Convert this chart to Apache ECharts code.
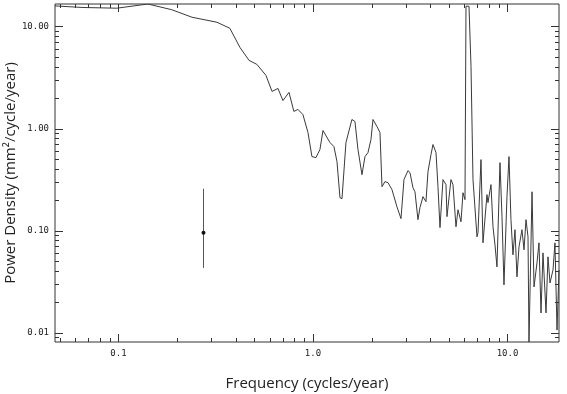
<!DOCTYPE html>
<html>
<head>
<meta charset="utf-8">
<script src="https://cdn.jsdelivr.net/npm/echarts@6/dist/echarts.min.js"></script>
<style>
  html, body { margin: 0; padding: 0; background: #fff; }
  #chart { width: 567px; height: 394px; }
</style>
</head>
<body>
<div id="chart"></div>
<script>
// spectrum (cycles/year, mm^2/cycle/year)
const freq = [0.0472, 0.0657, 0.0982, 0.1418, 0.188, 0.239, 0.321, 0.374, 0.421, 0.469,
  0.515, 0.573, 0.616, 0.661, 0.701, 0.753, 0.798, 0.837, 0.888, 0.943,
  0.988, 1.036, 1.086, 1.126, 1.223, 1.282, 1.329, 1.377, 1.410, 1.478,
  1.586, 1.644, 1.704, 1.786, 1.851, 1.918, 1.987, 2.035, 2.133, 2.211,
  2.264, 2.345, 2.430, 2.548, 2.703, 2.835, 2.937, 3.079, 3.153, 3.267,
  3.345, 3.466, 3.549, 3.678, 3.811, 3.902, 4.044, 4.140, 4.290, 4.392,
  4.498, 4.660, 4.829, 4.886, 5.123, 5.246, 5.436, 5.567, 5.768, 5.906,
  6.047, 6.119, 6.341, 6.493, 6.648, 6.970, 7.053, 7.308, 7.482, 7.845,
  7.938, 8.226, 8.424, 8.626, 8.831, 9.150, 9.370, 9.594, 9.940, 10.18,
  10.42, 10.67, 10.93, 11.19, 11.46, 11.87, 12.16, 12.45, 12.75, 12.90,
  13.37, 13.69, 14.18, 14.52, 14.87, 15.22, 15.78, 16.15, 16.54, 17.14,
  17.54, 17.97, 18.40];
const power = [15.9, 15.34, 15.10, 16.6, 14.59, 12.31, 11.00, 9.60, 6.25, 4.66,
  4.25, 3.32, 2.31, 2.47, 1.88, 2.26, 1.47, 1.54, 1.37, 0.913,
  0.531, 0.519, 0.622, 0.956, 0.729, 0.666, 0.474, 0.210, 0.205, 0.729,
  1.226, 1.172, 0.622, 0.353, 0.531, 0.581, 0.780, 1.226, 1.046, 0.913,
  0.269, 0.302, 0.295, 0.252, 0.171, 0.131, 0.316, 0.387, 0.370, 0.263,
  0.240, 0.128, 0.168, 0.215, 0.192, 0.378, 0.555, 0.697, 0.581, 0.269,
  0.107, 0.316, 0.282, 0.137, 0.316, 0.282, 0.109, 0.160, 0.122, 0.235,
  0.201, 15.79, 15.79, 4.06, 0.316, 0.0869, 0.0952, 0.496, 0.0759, 0.225,
  0.188, 0.282, 0.109, 0.0725, 0.0441, 0.463, 0.137, 0.0294, 0.215, 0.531,
  0.128, 0.0579, 0.102, 0.0352, 0.0693, 0.102, 0.0648, 0.128, 0.0869, 0.0081,
  0.240, 0.0281, 0.0483, 0.0759, 0.0156, 0.0605, 0.0156, 0.0553, 0.0307, 0.0412,
  0.0759, 0.0106, 0.0412];

// single error bar
const errFreq = [0.272];
const errMid = [0.0952];
const errLow = [0.0431];
const errHigh = [0.257];

// axis ticks
const xMajor = [0.1, 1, 10];
const xMinor = [0.05, 0.06, 0.07, 0.08, 0.09, 0.2, 0.3, 0.4, 0.5, 0.6, 0.7, 0.8, 0.9,
  2, 3, 4, 5, 6, 7, 8, 9];
const yMajor = [0.01, 0.1, 1, 10];
const yMinor = [0.009, 0.02, 0.03, 0.04, 0.05, 0.06, 0.07, 0.08, 0.09,
  0.2, 0.3, 0.4, 0.5, 0.6, 0.7, 0.8, 0.9, 2, 3, 4, 5, 6, 7, 8, 9];

const X_MIN = 0.0472, X_MAX = 18.4;
const Y_MIN = 0.0081, Y_MAX = 16.6;

const chart = echarts.init(document.getElementById('chart'));

function isDecade(v) {
  const l = Math.log10(v);
  return Math.abs(l - Math.round(l)) < 1e-6;
}

// inward ticks on both opposite edges of the plot frame
function tickSeries(values, isX, len) {
  return {
    type: 'custom',
    silent: true,
    z: 5,
    clip: false,
    data: values.map(v => isX ? [v, 1] : [1, v]),
    renderItem: function (params, api) {
      const cs = params.coordSys;
      if (isX) {
        const px = Math.round(api.coord([api.value(0), 1])[0]) + 0.5;
        const b = cs.y + cs.height, t = cs.y;
        return { type: 'group', children: [
          { type: 'line', shape: { x1: px, y1: b, x2: px, y2: b - len }, style: { stroke: '#333', lineWidth: 1 } },
          { type: 'line', shape: { x1: px, y1: t, x2: px, y2: t + len }, style: { stroke: '#333', lineWidth: 1 } }
        ]};
      }
      const py = Math.round(api.coord([1, api.value(1)])[1]) + 0.5;
      const l = cs.x, r = cs.x + cs.width;
      return { type: 'group', children: [
        { type: 'line', shape: { x1: l, y1: py, x2: l + len, y2: py }, style: { stroke: '#333', lineWidth: 1 } },
        { type: 'line', shape: { x1: r, y1: py, x2: r - len, y2: py }, style: { stroke: '#333', lineWidth: 1 } }
      ]};
    }
  };
}

const option = {
  animation: false,
  grid: {
    left: 55, right: 8, top: 4, bottom: 52,
    outerBoundsMode: 'none',
    containLabel: false,
    show: true, borderColor: '#333', borderWidth: 1, backgroundColor: 'transparent'
  },
  xAxis: {
    type: 'log', min: X_MIN, max: X_MAX, logBase: 10,
    name: 'Frequency (cycles/year)',
    nameLocation: 'middle', nameGap: 34,
    nameMoveOverlap: false,
    nameTextStyle: { fontFamily: 'Open Sans', fontSize: 15, color: '#222' },
    axisLine: { show: false },
    axisTick: { show: false },
    splitLine: { show: false },
    axisLabel: {
      margin: 7, color: '#222', fontFamily: 'DejaVu Sans Mono', fontSize: 9,
      showMinLabel: false, showMaxLabel: false,
      formatter: v => isDecade(v) ? v.toFixed(1) : ''
    }
  },
  yAxis: {
    type: 'log', min: Y_MIN, max: Y_MAX, logBase: 10,
    name: 'Power Density (mm²/cycle/year)',
    nameLocation: 'middle', nameGap: 37,
    nameMoveOverlap: false,
    nameTextStyle: { fontFamily: 'Open Sans', fontSize: 15, color: '#222' },
    axisLine: { show: false },
    axisTick: { show: false },
    splitLine: { show: false },
    axisLabel: {
      margin: 6, color: '#222', fontFamily: 'DejaVu Sans Mono', fontSize: 9,
      showMinLabel: false, showMaxLabel: false,
      formatter: v => isDecade(v) ? v.toFixed(2) : ''
    }
  },
  series: [
    {
      type: 'line',
      data: freq.map((f, i) => [f, power[i]]),
      showSymbol: false,
      lineStyle: { color: '#3a3a3a', width: 1 },
      clip: true,
      z: 3
    },
    {
      type: 'custom',
      data: errFreq.map((f, i) => [f, errMid[i], errLow[i], errHigh[i]]),
      renderItem: function (params, api) {
        const c = api.coord([api.value(0), api.value(1)]);
        const lo = api.coord([api.value(0), api.value(2)]);
        const hi = api.coord([api.value(0), api.value(3)]);
        const x = Math.round(c[0]) + 0.5;
        return { type: 'group', children: [
          { type: 'line', shape: { x1: x, y1: lo[1], x2: x, y2: hi[1] },
            style: { stroke: '#555', lineWidth: 1 } },
          { type: 'circle', shape: { cx: x, cy: c[1], r: 2 },
            style: { fill: '#111' } }
        ]};
      },
      z: 4
    },
    tickSeries(xMajor, true, 8),
    tickSeries(xMinor, true, 4),
    tickSeries(yMajor, false, 8),
    tickSeries(yMinor, false, 4)
  ]
};

chart.setOption(option);
</script>
</body>
</html>
